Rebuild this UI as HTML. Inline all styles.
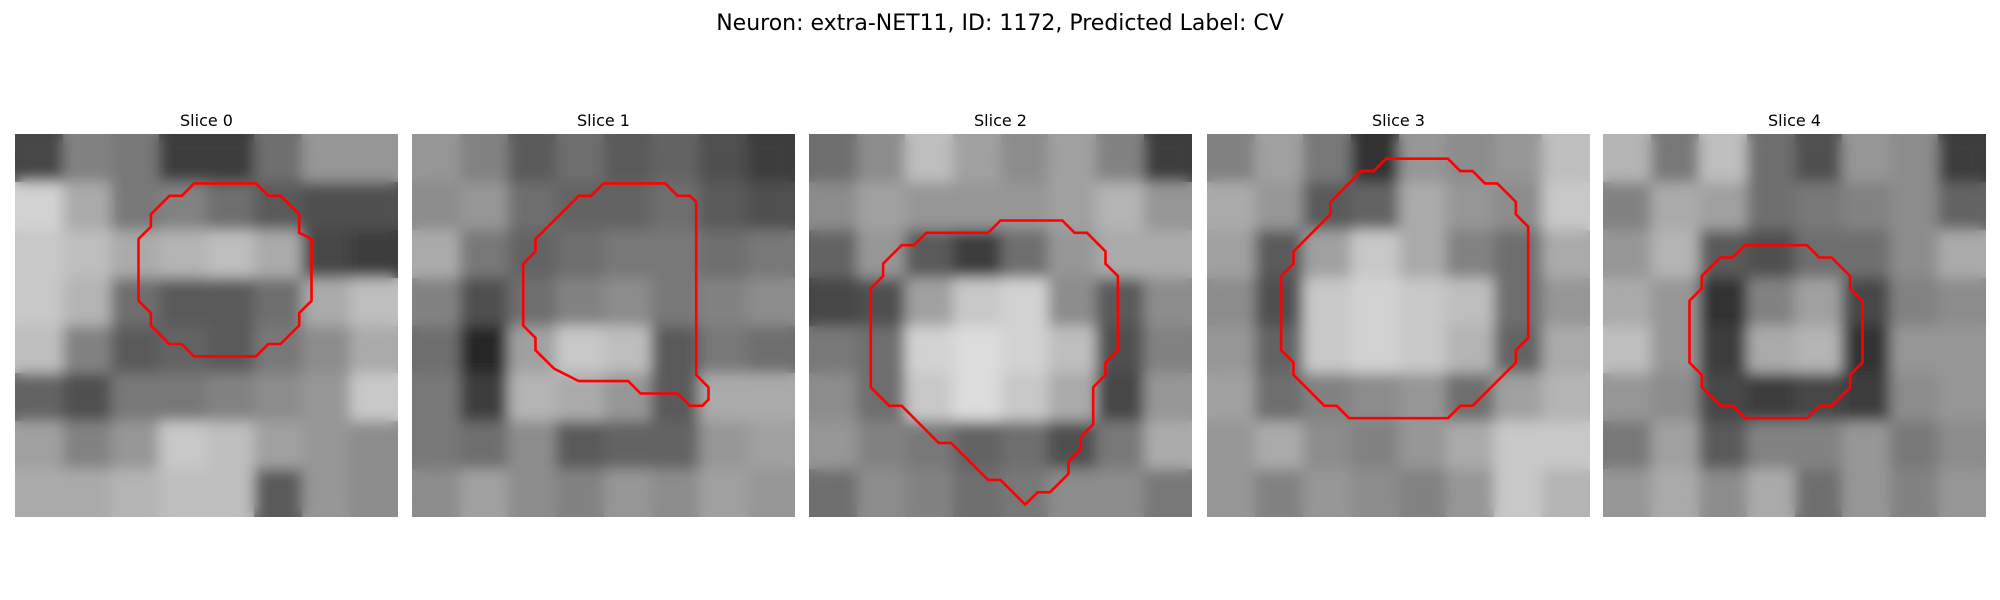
<!DOCTYPE html>
<html><head><meta charset="utf-8"><style>
body{margin:0;background:#fff;}
svg{display:block;font-family:"DejaVu Sans","Liberation Sans",sans-serif;}
</style></head><body>
<svg id="chart" width="2000" height="600" viewBox="0 0 2000 600">
<defs>
<filter id="soft" x="-0.1" y="-0.1" width="1.2" height="1.2">
<feGaussianBlur stdDeviation="7"/>
</filter>
<clipPath id="panelClip"><rect x="0" y="0" width="383" height="383"/></clipPath>
</defs>
<rect width="2000" height="600" fill="#fff"/>
<text x="1000" y="30" font-size="22" text-anchor="middle" fill="#000">Neuron: extra-NET11, ID: 1172, Predicted Label: CV</text>
<g id="panels"></g>
</svg>
<script>
const sliceLabels = ["Slice 0","Slice 1","Slice 2","Slice 3","Slice 4"];
const gray0 = [[70,130,120,60,60,110,150,150],[210,170,120,130,110,90,80,80],[200,190,170,180,190,170,70,60],[200,180,110,90,90,110,170,190],[190,130,90,100,90,120,140,170],[100,80,120,120,130,140,150,200],[160,130,150,200,190,160,150,140],[170,170,180,190,190,90,150,140]];
const gray1 = [[150,130,90,110,90,100,80,60],[140,150,110,100,100,110,90,80],[170,120,100,110,120,120,110,120],[130,80,110,130,140,120,130,140],[110,40,160,200,190,90,120,110],[120,60,180,170,150,90,170,170],[120,110,140,90,100,100,150,160],[140,160,140,130,150,140,160,150]];
const gray2 = [[110,140,190,160,140,160,130,60],[140,160,150,150,150,160,180,150],[100,150,90,60,110,150,170,170],[70,80,160,200,210,140,90,140],[120,110,210,220,210,190,80,130],[140,110,200,220,200,170,70,150],[150,130,120,100,110,80,120,170],[110,140,130,110,120,140,140,120]];
const gray3 = [[130,160,120,50,150,140,150,190],[170,150,90,100,170,150,140,200],[160,90,160,200,170,130,110,170],[140,80,200,210,200,190,110,150],[150,100,200,210,200,180,100,170],[160,110,130,140,150,110,160,180],[150,170,140,130,150,170,200,200],[150,130,150,140,130,150,200,180]];
const gray4 = [[180,120,190,110,80,150,140,60],[130,170,160,110,120,130,140,100],[150,180,90,80,110,110,140,170],[170,150,50,130,160,70,130,140],[190,150,60,170,180,50,150,150],[150,140,70,60,70,60,140,150],[120,160,90,130,130,150,120,140],[150,170,140,170,110,150,130,150]];
const contour0 = [[14.5,4],[19.5,4],[20.5,5],[21.5,5],[23,6.5],[23,8],[24,8.5],[24,13.5],[23,14.5],[23,15.5],[21.5,17],[20.5,17],[19.5,18],[14.5,18],[13.5,17],[12.5,17],[11,15.5],[11,14.5],[10,13.5],[10,8.5],[11,7.5],[11,6.5],[12.5,5],[13.5,5]];
const contour1 = [[15.5,4],[20.5,4],[21.5,5],[22.5,5],[23,5.5],[23,19.5],[24,20.5],[24,21.5],[23.5,22],[22.5,22],[21.5,21],[18.5,21],[17.5,20],[13.5,20],[11.5,19],[10,17.5],[10,16.5],[9,15.5],[9,10.5],[10,9.5],[10,8.5],[11.5,7],[13.5,5],[14.5,5]];
const contour2 = [[15.5,7],[20.5,7],[21.5,8],[22.5,8],[24,9.5],[24,10.5],[25,11.5],[25,17.5],[24,18.5],[24,19.5],[23,20.5],[23,23.5],[22,24.5],[22,25.5],[21,26.5],[21,27.5],[19.5,29],[18.5,29],[17.5,30],[15.5,28],[14.5,28],[11.5,25],[10.5,25],[7.5,22],[6.5,22],[5,20.5],[5,12.5],[6,11.5],[6,10.5],[7.5,9],[8.5,9],[9.5,8],[14.5,8]];
const contour3 = [[14.5,2],[19.5,2],[20.5,3],[21.5,3],[22.5,4],[23.5,4],[25,5.5],[25,6.5],[26,7.5],[26,16.5],[25,17.5],[25,18.5],[21.5,22],[20.5,22],[19.5,23],[11.5,23],[10.5,22],[9.5,22],[7,19.5],[7,18.5],[6,17.5],[6,11.5],[7,10.5],[7,9.5],[10,6.5],[10,5.5],[12.5,3],[13.5,3]];
const contour4 = [[11.5,9],[16.5,9],[17.5,10],[18.5,10],[20,11.5],[20,12.5],[21,13.5],[21,18.5],[20,19.5],[20,20.5],[18.5,22],[17.5,22],[16.5,23],[11.5,23],[10.5,22],[9.5,22],[8,20.5],[8,19.5],[7,18.5],[7,13.5],[8,12.5],[8,11.5],[9.5,10],[10.5,10]];
const grays = [gray0,gray1,gray2,gray3,gray4];
const contours = [contour0,contour1,contour2,contour3,contour4];

const NS = "http://www.w3.org/2000/svg";
const panelX = [15,412,809,1207,1603], panelY = 134, panelSize = 383, nCells = 31;
const g = document.getElementById('panels');
const cellScale = v => v * panelSize / nCells;
function buildCells(parent, data) {
  const rows = data.length;
  for (let r = 0; r < rows; r++) {
    const cols = data[r].length;
    for (let c = 0; c < cols; c++) {
      const rect = document.createElementNS(NS,'rect');
      
      
      const x0 = Math.round(c*panelSize/cols), x1 = Math.round((c+1)*panelSize/cols);
      const y0 = Math.round(r*panelSize/rows), y1 = Math.round((r+1)*panelSize/rows);
      rect.setAttribute('x', x0); rect.setAttribute('y', y0);
      rect.setAttribute('width', x1-x0); rect.setAttribute('height', y1-y0);
      const v = data[r][c];
      rect.setAttribute('fill', `rgb(${v},${v},${v})`);
      parent.appendChild(rect);
    }
  }
}
for (let p = 0; p < 5; p++) {
  const grp = document.createElementNS(NS,'g');
  
  
  grp.setAttribute('transform', `translate(${panelX[p]},${panelY})`);
  const t = document.createElementNS(NS,'text');
  
  
  t.setAttribute('x', panelSize/2); t.setAttribute('y', -8);
  t.setAttribute('font-size','16'); t.setAttribute('text-anchor','middle');
  t.textContent = sliceLabels[p];
  grp.appendChild(t);
  const clip = document.createElementNS(NS,'g');
  
  
  clip.setAttribute('clip-path', 'url(#panelClip)');
  const base = document.createElementNS(NS,'g');
  
  
  buildCells(base, grays[p]);
  const soft = document.createElementNS(NS,'g');
  
  
  soft.setAttribute('filter', 'url(#soft)');
  buildCells(soft, grays[p]);
  clip.appendChild(base); clip.appendChild(soft);
  grp.appendChild(clip);
  const pl = document.createElementNS(NS,'polygon');
  
  
  pl.setAttribute('points', contours[p].map(pt => cellScale(pt[0]).toFixed(1)+','+cellScale(pt[1]).toFixed(1)).join(' '));
  pl.setAttribute('fill','none'); pl.setAttribute('stroke','#ff0000'); pl.setAttribute('stroke-width','2.6');
  grp.appendChild(pl);
  g.appendChild(grp);
}
</script>
</body></html>
